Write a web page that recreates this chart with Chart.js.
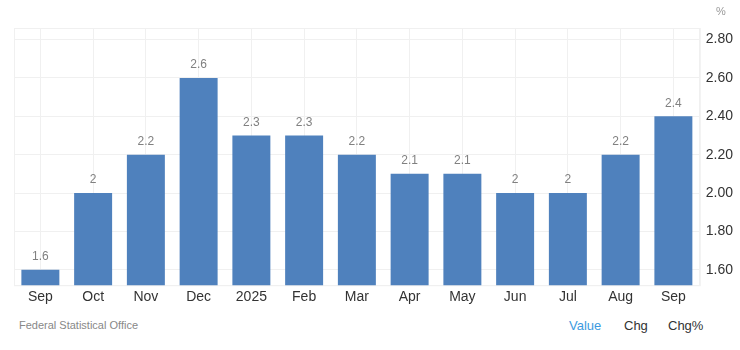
<!DOCTYPE html>
<html>
<head>
<meta charset="utf-8">
<script src="https://cdn.jsdelivr.net/npm/chart.js@4"></script>
<style>
  body { margin: 0; background: #fff; font-family: "Liberation Sans", Arial, sans-serif; }
  #wrap { position: relative; width: 740px; height: 350px; }
  #box { position: absolute; left: 0; top: 0; width: 740px; height: 310px; }
  .foot { position: absolute; top: 319px; font-size: 11px; color: #888; }
  .opt { position: absolute; top: 318px; font-size: 13px; color: #333; }
  #unit { position: absolute; left: 716px; top: 5px; font-size: 11px; color: #999; }
</style>
</head>
<body>
<div id="wrap">
  <div id="box"><canvas id="grafico-barras"></canvas></div>
  <div id="unit">%</div>
  <div class="foot" style="left:19px">Federal Statistical Office</div>
  <div class="opt" style="left:569px; color:#3d9be0">Value</div>
  <div class="opt" style="left:624px">Chg</div>
  <div class="opt" style="left:668px">Chg%</div>
</div>
<script>
// dados
const MESES = ['Sep', 'Oct', 'Nov', 'Dec', '2025', 'Feb', 'Mar', 'Apr', 'May', 'Jun', 'Jul', 'Aug', 'Sep'];
const VALORES = [1.6, 2, 2.2, 2.6, 2.3, 2.3, 2.2, 2.1, 2.1, 2, 2, 2.2, 2.4];
const Y_TICKS = [1.6, 1.8, 2.0, 2.2, 2.4, 2.6, 2.8];

const COR_BARRA = '#4f81bd';
const COR_GRADE = '#f0f0f0';

// escreve o valor em cima de cada barra
const rotulos = {
    id: 'rotulos',
    afterDatasetsDraw: function(chart) {
        var ctx = chart.ctx;
        var meta = chart.getDatasetMeta(0);
        ctx.save();
        ctx.font = '12px "Liberation Sans", Arial, sans-serif';
        ctx.fillStyle = '#808080';
        ctx.textAlign = 'center';
        ctx.textBaseline = 'bottom';
        meta.data.forEach(function(bar, i) {
            ctx.fillText(String(VALORES[i]), bar.x, bar.y - 7);
        });
        ctx.restore();
    }
};

// moldura clara em volta da area do grafico
const moldura = {
    id: 'moldura',
    beforeDatasetsDraw: function(chart) {
        var a = chart.chartArea;
        var ctx = chart.ctx;
        ctx.save();
        ctx.strokeStyle = COR_GRADE;
        ctx.lineWidth = 1;
        ctx.strokeRect(Math.round(a.left) + 0.5, Math.round(a.top) + 0.5, a.right - a.left, a.bottom - a.top);
        ctx.restore();
    }
};

new Chart(document.getElementById('grafico-barras'), {
    type: 'bar',
    data: {
        labels: MESES,
        datasets: [{
            data: VALORES,
            backgroundColor: COR_BARRA,
            borderWidth: 0,
            barPercentage: 0.72,
            categoryPercentage: 1
        }]
    },
    options: {
        responsive: true,
        maintainAspectRatio: false,
        animation: false,
        layout: { padding: { left: 14, top: 28, right: 1, bottom: 0 } },
        plugins: { legend: { display: false }, tooltip: { enabled: false } },
        scales: {
            x: {
                grid: { color: COR_GRADE, offset: false, drawTicks: false },
                border: { color: COR_GRADE },
                ticks: { color: '#333', font: { size: 14, family: '"Liberation Sans", Arial, sans-serif' }, padding: 4 }
            },
            y: {
                position: 'right',
                min: 1.52,
                max: 2.86,
                afterBuildTicks: function(scale) {
                    scale.ticks = Y_TICKS.map(function(v) { return { value: v }; });
                },
                grid: { color: COR_GRADE, drawTicks: false },
                border: { color: COR_GRADE },
                ticks: {
                    color: '#333',
                    font: { size: 14, family: '"Liberation Sans", Arial, sans-serif' },
                    padding: 6,
                    callback: function(v) { return Number(v).toFixed(2); }
                }
            }
        }
    },
    plugins: [moldura, rotulos]
});
</script>
</body>
</html>
